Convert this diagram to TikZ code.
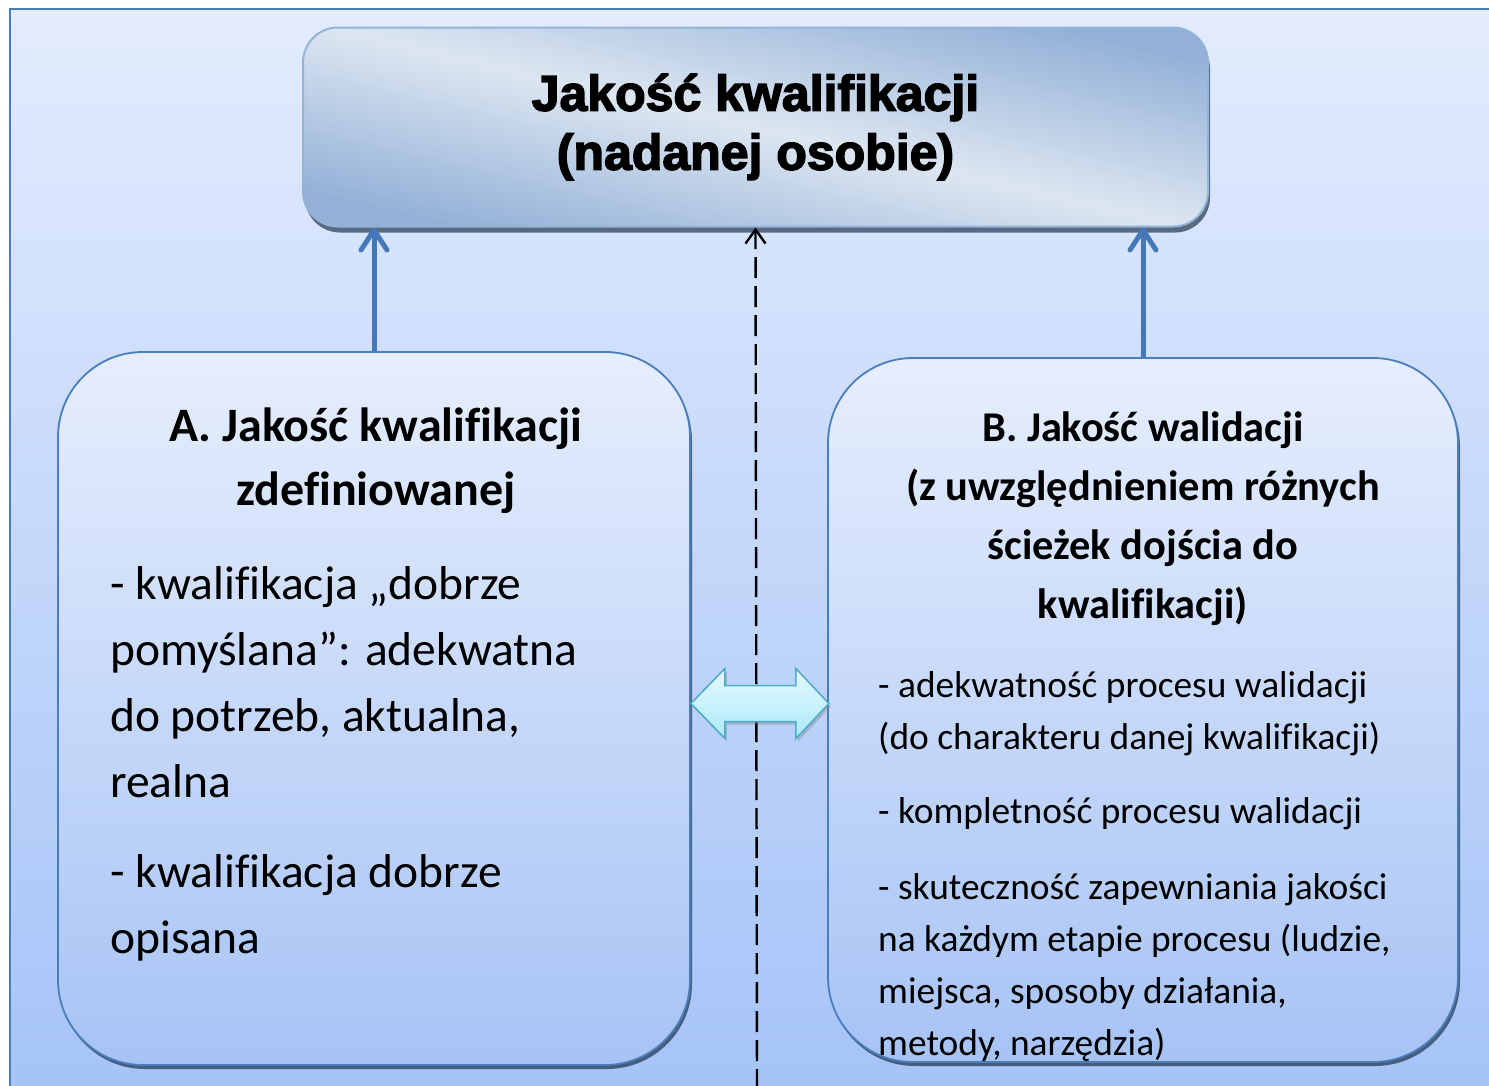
\documentclass[tikz,border=0pt]{standalone}
\usepackage{fontspec}
\setmainfont{Carlito}[Ligatures=NoCommon]
\newfontface\blackfont[FakeBold=3]{Liberation Sans Bold}
\usepackage{tikz}
\usetikzlibrary{arrows.meta,positioning,calc,shadows}
\definecolor{bgtop}{HTML}{E3ECFD}
\definecolor{bgbot}{HTML}{A5C3F8}
\definecolor{boxtop}{HTML}{E6EEFD}
\definecolor{boxbot}{HTML}{A7C3F5}
\definecolor{boxline}{HTML}{4A7EBB}
\definecolor{titledark}{HTML}{93B1D7}
\definecolor{titlelight}{HTML}{DCE6F1}
\definecolor{titleline}{HTML}{95B3D7}
\definecolor{arrowblue}{HTML}{4478B9}
\definecolor{dbltop}{HTML}{E4F9FE}
\definecolor{dblbot}{HTML}{ACEAF9}
\definecolor{dblline}{HTML}{4BACC6}
\tikzstyle{titlebox}=[draw=titleline,line width=2pt,rounded corners=35pt,top color=titledark,bottom color=titledark,middle color=titlelight,shading angle=-13,drop shadow={shadow xshift=2pt,shadow yshift=-6pt,fill=black!40!titledark,opacity=1}]
\tikzstyle{qualbox}=[draw=boxline,line width=1.8pt,rounded corners=85pt,top color=boxtop,bottom color=boxbot,drop shadow={shadow xshift=2pt,shadow yshift=-4pt,fill=black!60!boxline,opacity=.7}]
\tikzstyle{uparrow}=[arrowblue,line width=5pt,-{Straight Barb[length=20pt,width=26pt,round]}]
\tikzstyle{dashline}=[black,line width=2.4pt,dash pattern=on 21pt off 8pt,-{Straight Barb[length=14pt,width=20pt]}]
\tikzstyle{dblarrow}=[draw=dblline,line width=1.5pt,top color=dbltop,bottom color=dblbot,drop shadow={shadow xshift=2pt,shadow yshift=-3pt,opacity=.4}]

\begin{document}
\begin{tikzpicture}[x=1pt,y=-1pt]
\useasboundingbox (0,0) rectangle (1489,1085);
\fill[white] (0,0) rectangle (1489,1085);
% frame
\draw[draw=boxline,line width=2pt,top color=bgtop,bottom color=bgbot] (10,9) rectangle (1500,1100);
% top box
\node[titlebox,minimum width=905pt,minimum height=199pt,align=center,
  font=\blackfont\fontsize{50}{59}\selectfont] (title) at (755.5,127)
  {Jakość kwalifikacji\\(nadanej osobie)};
% left box
\node[qualbox,minimum width=632pt,minimum height=713pt] (qualdef) at (374,708.5) {};
\node[font=\bfseries\fontsize{48}{64}\selectfont,align=center] (qualdefhead) at (376,461)
  {A. Jakość kwalifikacji\\zdefiniowanej};
\node[anchor=north west,inner sep=0pt,align=left,font=\fontsize{47.5}{66}\selectfont] (qualdeftext) at (110,566)
  {- kwalifikacja „dobrze\\pomyślana”: adekwatna\\do potrzeb, aktualna,\\realna\\[24pt]- kwalifikacja dobrze\\opisana};
% right box
\node[qualbox,minimum width=630pt,minimum height=704pt] (valid) at (1143,710) {};
\node[font=\bfseries\fontsize{42.4}{59}\selectfont,align=center] (validhead) at (1143,518.5)
  {B. Jakość walidacji\\(z uwzględnieniem różnych\\ścieżek dojścia do\\kwalifikacji)};
\node[anchor=north west,inner sep=0pt,align=left,font=\fontsize{37.4}{52}\selectfont] (validtext) at (878,671)
  {- adekwatność procesu walidacji\\(do charakteru danej kwalifikacji)\\[22pt]- kompletność procesu walidacji\\[24pt]- skuteczność zapewniania jakości\\na każdym etapie procesu (ludzie,\\miejsca, sposoby działania,\\metody, narzędzia)};
% connectors
\draw[uparrow] (qualdef.north) -- (qualdef.north |- title.south);
\draw[uparrow] (valid.north) -- (valid.north |- title.south);
\coordinate (dashfoot) at (757,1090);
\draw[dashline] (dashfoot) -- (title.south);
\draw[dblarrow] ($(qualdef.east)+(0,-5)$) -- ++(34,-35) -- ++(0,17) -- ++(71,0) -- ++(0,-17)
  -- ++(33,35) -- ++(-33,35) -- ++(0,-17) -- ++(-71,0) -- ++(0,17) -- cycle;
\end{tikzpicture}
\end{document}
